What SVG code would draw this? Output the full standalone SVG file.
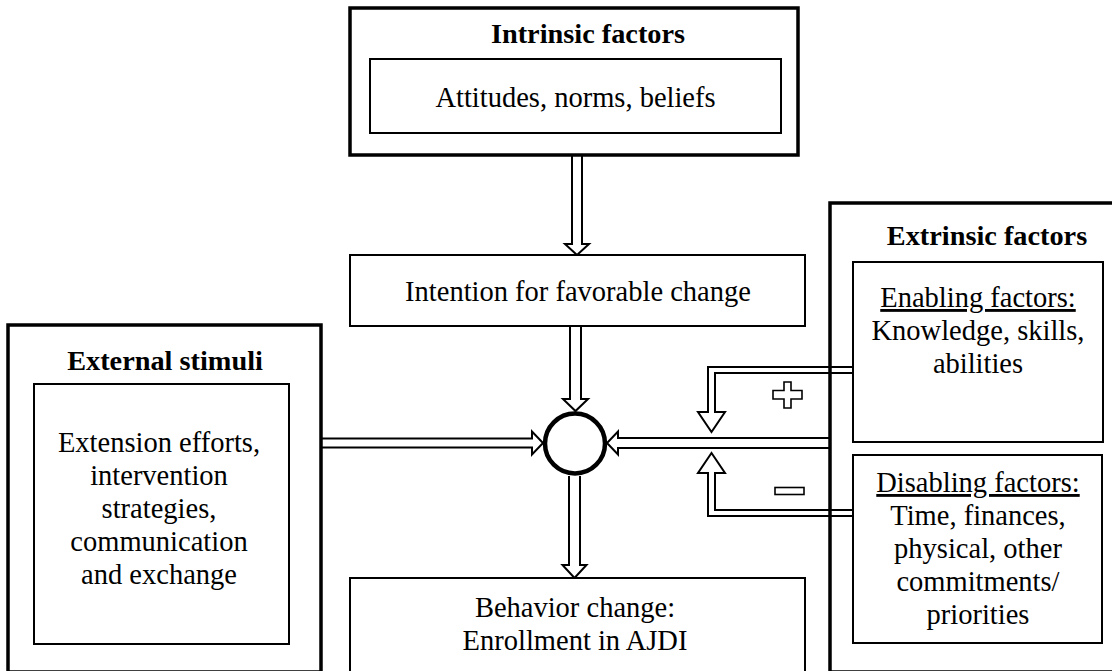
<svg xmlns="http://www.w3.org/2000/svg" width="1112" height="671" viewBox="0 0 1112 671" font-family="'Liberation Serif', 'Times New Roman', Times, 'DejaVu Serif', serif">
<style>
  text { font-family: "Liberation Serif", "Times New Roman", Times, "DejaVu Serif", serif; fill: #000; }
  .t { font-size: 28.5px; text-anchor: middle; }
  .b { font-size: 28.3px; font-weight: bold; text-anchor: middle; }
  .outer { fill: none; stroke: #000; stroke-width: 3.5; }
  .inner { fill: #fff; stroke: #000; stroke-width: 2; }
  .conn { fill: #fff; stroke: #000; stroke-width: 2; stroke-linejoin: miter; }
  .sign { fill: #fff; stroke: #000; stroke-width: 1.6; }
</style>
<rect width="1112" height="671" fill="#fff"/>

<g id="connectors">
  <path class="conn" d="M572,156 V244 H565 L577,255 L589,244 H582 V156"/>
  <path class="conn" d="M570,327 V399 H563 L575.5,411 L588,399 H581 V327"/>
  <path class="conn" d="M569,476 V565 H562.5 L574.5,578 L586.5,565 H580 V476"/>
  <path class="conn" d="M321,438.5 H532 V431.5 L543,443 L532,454.5 V447.5 H321"/>
  <path class="conn" d="M830,438 H618 V431.5 L607,443 L618,454.5 V448 H830"/>
  <path class="conn" d="M853,367 H708 V412 H698 L711.5,432 L725,412 H715 V373 H853"/>
  <path class="conn" d="M853,516 H708 V473 H698 L711.5,453 L725,473 H715 V510 H853"/>
  <path class="sign" d="M784,382 H791 V390.5 H802 V399 H791 V408 H784 V399 H773 V390.5 H784 Z"/>
  <rect class="sign" x="775" y="487.5" width="29" height="7"/>
</g>

<g id="intrinsic">
  <rect class="outer" x="350" y="8" width="448" height="147"/>
  <text class="b" x="588" y="43">Intrinsic factors</text>
  <rect class="inner" x="370" y="59" width="411" height="74"/>
  <text class="t" x="575.5" y="107">Attitudes, norms, beliefs</text>
</g>

<g id="intention">
  <rect class="inner" x="350" y="255" width="455" height="71"/>
  <text class="t" x="578" y="301">Intention for favorable change</text>
</g>

<g id="junction">
  <circle cx="575" cy="443.5" r="30" fill="#fff" stroke="#000" stroke-width="4.5"/>
</g>

<g id="external">
  <rect class="outer" x="8" y="325" width="313" height="347"/>
  <text class="b" x="165" y="370">External stimuli</text>
  <rect class="inner" x="34" y="384" width="255" height="260"/>
  <text class="t" x="159" y="452">Extension efforts,</text>
  <text class="t" x="159" y="485">intervention</text>
  <text class="t" x="159" y="518">strategies,</text>
  <text class="t" x="159" y="551">communication</text>
  <text class="t" x="159" y="584">and exchange</text>
</g>

<g id="behavior">
  <rect class="inner" x="350" y="578" width="455" height="110"/>
  <text class="t" x="575" y="617">Behavior change:</text>
  <text class="t" x="575" y="650">Enrollment in AJDI</text>
</g>

<g id="extrinsic">
  <rect class="outer" x="830" y="203" width="290" height="469"/>
  <text class="b" x="987" y="245">Extrinsic factors</text>
</g>

<g id="enabling">
  <rect class="inner" x="853" y="262" width="250" height="180"/>
  <text class="t" x="978" y="307" text-decoration="underline">Enabling factors:</text>
  <text class="t" x="978" y="340">Knowledge, skills,</text>
  <text class="t" x="978" y="373">abilities</text>
</g>

<g id="disabling">
  <rect class="inner" x="853" y="455" width="249" height="188"/>
  <text class="t" x="978" y="492" text-decoration="underline">Disabling factors:</text>
  <text class="t" x="978" y="525">Time, finances,</text>
  <text class="t" x="978" y="558">physical, other</text>
  <text class="t" x="978" y="591">commitments/</text>
  <text class="t" x="978" y="624">priorities</text>
</g>
</svg>
